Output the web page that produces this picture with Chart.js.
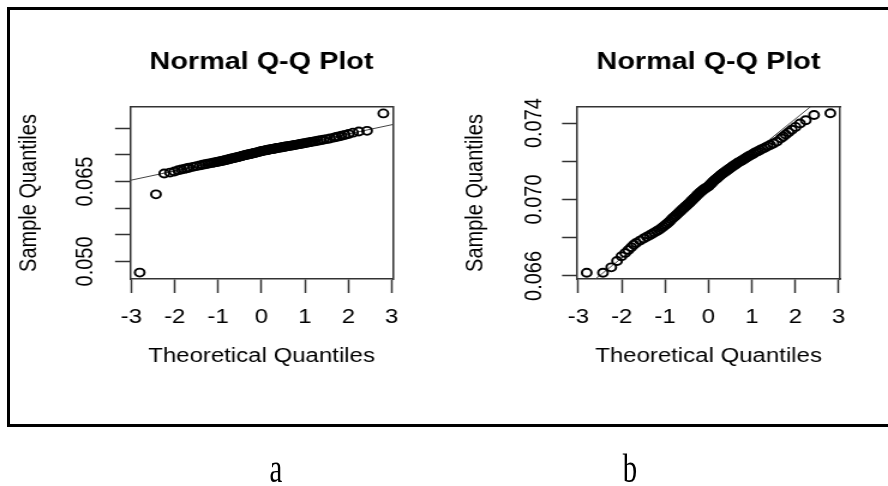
<!DOCTYPE html>
<html>
<head>
<meta charset="utf-8">
<script src="https://cdn.jsdelivr.net/npm/chart.js@4.4.1/dist/chart.umd.min.js"></script>
<style>
  html, body { margin:0; padding:0; background:#fff; width:888px; height:486px; overflow:hidden; }
  #frame { position:absolute; left:7px; top:7px; width:900px; height:414px; border:3px solid #000; }
  canvas { position:absolute; top:0; }
  .cap { position:absolute; font-family:"Liberation Serif","Times New Roman",serif; font-size:40px; line-height:40px; color:#000; transform:scaleX(0.72); transform-origin:center; width:40px; text-align:center; }
</style>
</head>
<body>
<div id="frame"></div>
<canvas id="ca" width="370" height="486" style="left:0px;width:444px;height:486px;"></canvas>
<canvas id="cb" width="370" height="486" style="left:444px;width:444px;height:486px;"></canvas>
<div class="cap" style="left:256px;top:449px;">a</div>
<div class="cap" style="left:610px;top:449px;">b</div>
<script>
// Theoretical quantiles (x positions of points), shared by both panels
const theoreticalQuantiles = [
 -2.807,-2.432,-2.241,-2.108,-2.005,-1.919,-1.846,-1.780,-1.722,-1.669,
 -1.576,-1.495,-1.422,-1.356,-1.296,-1.240,-1.188,-1.138,-1.092,-1.047,
 -1.004,-0.964,-0.925,-0.887,-0.851,-0.815,-0.780,-0.747,-0.714,-0.682,
 -0.651,-0.620,-0.590,-0.561,-0.532,-0.503,-0.475,-0.447,-0.420,-0.392,
 -0.366,-0.339,-0.312,-0.286,-0.260,-0.234,-0.208,-0.183,-0.157,-0.132,
 -0.107,-0.082,-0.056,-0.031,-0.006,
 0.006,0.031,0.056,0.082,0.107,0.132,0.157,0.183,0.208,0.234,
 0.260,0.286,0.312,0.339,0.366,0.392,0.420,0.447,0.475,0.503,
 0.532,0.561,0.590,0.620,0.651,0.682,0.714,0.747,0.780,0.815,
 0.851,0.887,0.925,0.964,1.004,1.047,1.092,1.138,1.188,1.240,
 1.296,1.356,1.422,1.495,1.576,1.669,1.722,1.780,1.846,1.919,
 2.005,2.108,2.241,2.432,2.807
];
// Panel a sample quantiles
const sampleA = [
 0.0479,0.0626,0.06650,0.06668,0.06690,0.06712,0.06725,0.06738,0.06750,0.06760,
 0.06776,0.06790,0.06803,0.06815,0.06826,0.06834,0.06842,0.06850,0.06857,0.06864,
 0.06871,0.06878,0.06885,0.06892,0.06899,0.06906,0.06913,0.06920,0.06927,0.06933,
 0.06939,0.06945,0.06951,0.06957,0.06963,0.06969,0.06975,0.06981,0.06987,0.06993,
 0.06998,0.07003,0.07008,0.07013,0.07018,0.07023,0.07028,0.07033,0.07038,0.07043,
 0.07048,0.07053,0.07058,0.07063,0.07068,
 0.07072,0.07077,0.07081,0.07085,0.07089,0.07093,0.07097,0.07101,0.07105,0.07109,
 0.07113,0.07117,0.07121,0.07125,0.07129,0.07133,0.07137,0.07141,0.07145,0.07149,
 0.07153,0.07157,0.07161,0.07166,0.07170,0.07174,0.07179,0.07184,0.07189,0.07194,
 0.07199,0.07204,0.07210,0.07216,0.07222,0.07229,0.07236,0.07243,0.07250,0.07258,
 0.07266,0.07275,0.07285,0.07296,0.07309,0.07325,0.07336,0.07348,0.07360,0.07375,
 0.07392,0.07418,0.07440,0.07452,0.0778
];
// Panel b sample quantiles
const sampleB = [
 0.06617,0.06617,0.06645,0.06678,0.06703,0.06720,0.06736,0.06750,0.06763,0.06772,
 0.06785,0.06796,0.06805,0.06813,0.06821,0.06828,0.06835,0.06842,0.06849,0.06857,
 0.06865,0.06872,0.06880,0.06888,0.06896,0.06904,0.06911,0.06918,0.06925,0.06932,
 0.06938,0.06945,0.06951,0.06957,0.06963,0.06969,0.06975,0.06981,0.06987,0.06993,
 0.06999,0.07005,0.07011,0.07017,0.07023,0.07029,0.07034,0.07039,0.07044,0.07049,
 0.07053,0.07057,0.07061,0.07065,0.07068,
 0.07071,0.07077,0.07083,0.07088,0.07094,0.07099,0.07104,0.07109,0.07114,0.07119,
 0.07124,0.07129,0.07134,0.07138,0.07143,0.07147,0.07152,0.07156,0.07161,0.07165,
 0.07170,0.07174,0.07179,0.07183,0.07188,0.07193,0.07197,0.07202,0.07206,0.07211,
 0.07216,0.07221,0.07226,0.07231,0.07236,0.07242,0.07248,0.07253,0.07259,0.07265,
 0.07271,0.07278,0.07285,0.07293,0.07303,0.07320,0.07330,0.07340,0.07352,0.07365,
 0.07380,0.07398,0.07415,0.07442,0.07451
];
// Reference lines (qqline) endpoints
const qqLineX = [-3.03, 3.03];
const qqLineA = [0.06522, 0.07572];
const qqLineB = [0.06507, 0.07609];
// Axis ranges and ticks
const xRange = [-3.03, 3.03];
const xTicks = [-3, -2, -1, 0, 1, 2, 3];
const yRangeA = [0.0467, 0.0790];
const yTicksA = [0.050, 0.055, 0.060, 0.065, 0.070, 0.075];
const yLabelsA = [0.050, 0.065];
const yRangeB = [0.06584, 0.07484];
const yTicksB = [0.066, 0.068, 0.070, 0.072, 0.074];
const yLabelsB = [0.066, 0.070, 0.074];
const titleText = 'Normal Q-Q Plot';
const xTitle = 'Theoretical Quantiles';
const yTitle = 'Sample Quantiles';

const FONT = "'Liberation Sans', Arial, sans-serif";
const TXT = '#000';
const AX = '#333';

function makeChart(id, sample, lineY, yRange, yTicks, yLabels, g) {
  const pts = theoreticalQuantiles.map((x, i) => ({x: x, y: sample[i]}));
  const line = qqLineX.map((x, i) => ({x: x, y: lineY[i]}));
  return new Chart(document.getElementById(id), {
    type: 'scatter',
    data: { datasets: [
      { type: 'scatter', data: pts, pointRadius: 4, pointHoverRadius: 4, pointBorderWidth: 1.9,
        pointBorderColor: '#000', pointBackgroundColor: 'rgba(0,0,0,0)', showLine: false },
      { type: 'line', data: line, borderColor: '#444', borderWidth: 1, pointRadius: 0, fill: false, tension: 0 }
    ]},
    options: {
      responsive: false, animation: false, devicePixelRatio: 1,
      layout: { padding: { left: 0, top: 0, right: g.rightPad, bottom: 107 } },
      plugins: { legend: { display: false }, tooltip: { enabled: false }, title: { display: false } },
      scales: {
        x: {
          type: 'linear', position: 'bottom', min: xRange[0], max: xRange[1],
          afterBuildTicks: ax => { ax.ticks = xTicks.map(v => ({value: v})); },
          afterFit: ax => { ax.height = 100; },
          grid: { drawOnChartArea: false, drawTicks: true, tickLength: 14, tickWidth: 1.5, tickColor: AX },
          border: { display: true, color: AX, width: 1.5 },
          ticks: { autoSkip: false, maxRotation: 0, padding: 12, color: TXT, font: { family: FONT, size: 20 },
                   callback: v => String(v) },
          title: { display: true, text: xTitle, color: TXT, font: { family: FONT, size: 20 }, padding: { top: 0, bottom: 11 } }
        },
        x2: {
          type: 'linear', position: 'top', display: true,
          afterFit: ax => { ax.height = 107; },
          grid: { display: false },
          border: { display: true, color: AX, width: 1.5 },
          ticks: { display: false },
          title: { display: true, text: titleText, color: TXT, font: { family: FONT, size: 24, weight: 'bold' }, padding: { top: 47.6, bottom: 0 } }
        },
        y: {
          type: 'linear', position: 'left', min: yRange[0], max: yRange[1],
          afterBuildTicks: ax => { ax.ticks = yTicks.map(v => ({value: v})); },
          afterFit: ax => { ax.width = g.yWidth; },
          grid: { drawOnChartArea: false, drawTicks: true, tickLength: 12.5, tickWidth: 1.5, tickColor: AX },
          border: { display: true, color: AX, width: 1.5 },
          ticks: { autoSkip: false, minRotation: 90, maxRotation: 90, crossAlign: 'center', padding: g.yTickPad,
                   color: TXT, font: { family: FONT, size: 20 },
                   callback: v => yLabels.some(l => Math.abs(l - v) < 1e-9) ? v.toFixed(3) : '' },
          title: { display: true, text: yTitle, color: TXT, font: { family: FONT, size: 20 }, padding: { top: g.yTitlePad, bottom: 0 } }
        },
        y2: {
          type: 'linear', position: 'right', display: true,
          afterFit: ax => { ax.width = 0; },
          grid: { display: false },
          border: { display: true, color: AX, width: 1.5 },
          ticks: { display: false }
        }
      }
    }
  });
}

makeChart('ca', sampleA, qqLineA, yRangeA, yTicksA, yLabelsA,
  { yWidth: 108.33, rightPad: 42.5, yTickPad: -0.85, yTitlePad: 12.2 });
makeChart('cb', sampleB, qqLineB, yRangeB, yTicksB, yLabelsB,
  { yWidth: 110.83, rightPad: 40, yTickPad: -1.7, yTitlePad: 14.7 });
</script>
</body>
</html>
